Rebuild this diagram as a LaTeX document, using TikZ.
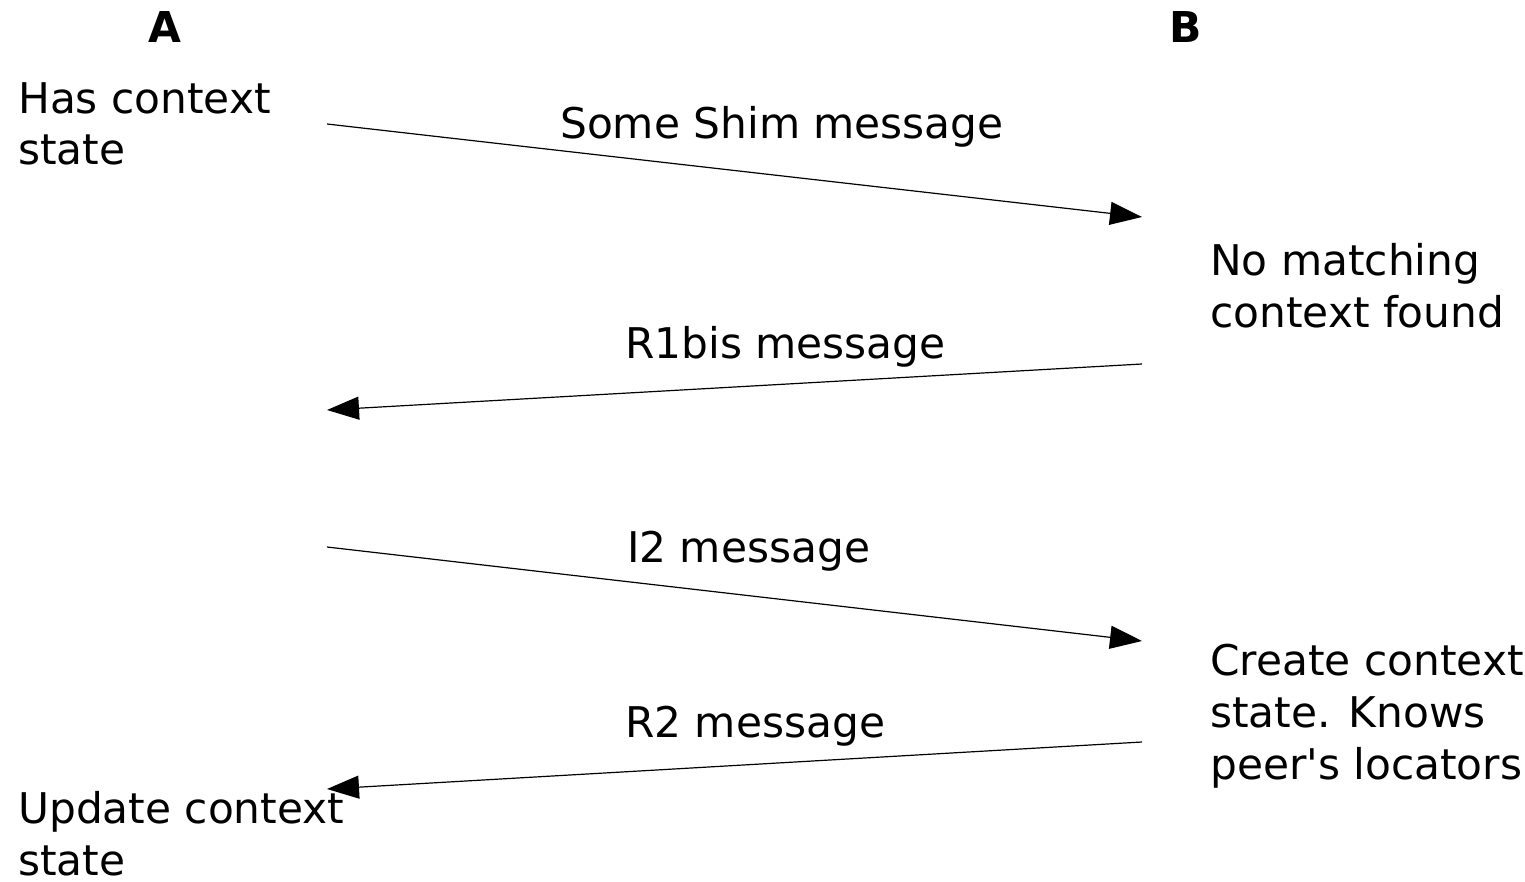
\documentclass[tikz,border=0pt]{standalone}
\usepackage{fontspec}
\setmainfont{DejaVu Sans}[Ligatures=TeXOff]
\usetikzlibrary{arrows.meta}
\begin{document}
\begin{tikzpicture}[x=1pt,y=-1pt,
  lbl/.style={inner sep=0pt,anchor=base west,align=left,font=\fontsize{42.3}{51.8}\selectfont},
  hdr/.style={inner sep=0pt,anchor=base,font=\fontsize{42.5}{51.5}\selectfont\bfseries},
  msg/.style={line width=1.2pt,-{Triangle[length=32pt,width=23pt]}}]
\useasboundingbox (0,0) rectangle (1525,882);
\node[hdr] (A) at (165,43) {A};
\node[hdr] (B) at (1186,43) {B};
\node[lbl] (has) at (18,165) {Has context\\state};
\node[lbl] (nomatch) at (1210,327) {No matching\\context found};
\node[lbl] (create) at (1210,779) {Create context\\state. Knows\\peer's locators};
\node[lbl] (upd) at (18,875) {Update context\\state};
\node[lbl] (m1) at (560,139) {Some Shim message};
\node[lbl] (m2) at (625,358) {R1bis message};
\node[lbl] (m3) at (627,562) {I2 message};
\node[lbl] (m4) at (625,737) {R2 message};
\coordinate (a1s) at (327,124);
\coordinate (a1e) at (1142,217);
\coordinate (a2s) at (1142,364);
\coordinate (a2e) at (327,410);
\coordinate (a3s) at (327,547);
\coordinate (a3e) at (1142,641);
\coordinate (a4s) at (1142,742);
\coordinate (a4e) at (327,789);
\draw[msg] (a1s) -- (a1e);
\draw[msg] (a2s) -- (a2e);
\draw[msg] (a3s) -- (a3e);
\draw[msg] (a4s) -- (a4e);
\end{tikzpicture}
\end{document}
